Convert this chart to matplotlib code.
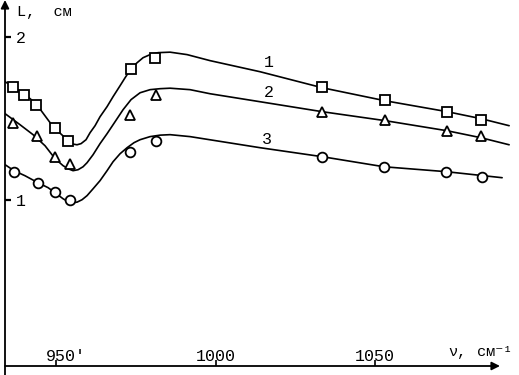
import matplotlib
matplotlib.use("Agg")
import matplotlib.pyplot as plt
from matplotlib.transforms import ScaledTranslation

plt.rcParams['font.family'] = ['Liberation Mono', 'DejaVu Sans']

# ---- data ----
# measured points
sq_v = [936.5, 940.0, 943.7, 949.7, 953.8, 973.5, 981.0, 1033.4, 1053.1, 1072.6, 1083.2]
sq_L = [1.69, 1.64, 1.58, 1.44, 1.36, 1.80, 1.87, 1.69, 1.61, 1.54, 1.49]

tr_v = [936.5, 944.0, 949.7, 954.4, 973.2, 981.3, 1033.4, 1053.1, 1072.6, 1083.2]
tr_L = [1.47, 1.39, 1.26, 1.22, 1.52, 1.64, 1.54, 1.49, 1.42, 1.39]

ci_v = [936.8, 944.4, 949.7, 954.4, 973.2, 981.3, 1033.4, 1052.8, 1072.3, 1083.5]
ci_L = [1.17, 1.10, 1.05, 1.00, 1.29, 1.36, 1.26, 1.20, 1.17, 1.14]

# fitted curves
c1_v = [934.01, 936.52, 939.66, 943.73, 949.06, 952.82, 954.39, 955.64, 956.58, 957.84,
        959.40, 960.66, 962.23, 963.79, 965.99, 967.87, 970.06, 971.63, 973.51, 975.39,
        977.27, 979.47, 981.97, 985.74, 991.07, 998.28, 1013.95, 1033.39, 1053.13,
        1072.57, 1083.23, 1092.01]
c1_L = [1.724, 1.693, 1.656, 1.589, 1.448, 1.380, 1.353, 1.340, 1.337, 1.344,
        1.368, 1.411, 1.454, 1.509, 1.571, 1.632, 1.699, 1.748, 1.804, 1.840,
        1.871, 1.890, 1.902, 1.905, 1.890, 1.853, 1.785, 1.687, 1.607,
        1.540, 1.497, 1.454]

c2_v = [934.01, 938.71, 942.79, 946.55, 949.69, 952.19, 953.76, 955.33, 956.90, 958.46,
        959.72, 961.60, 963.79, 965.99, 967.87, 971.00, 973.51, 976.33, 979.47, 982.60,
        985.74, 992.01, 998.28, 1013.95, 1033.39, 1053.13, 1072.57, 1083.23, 1092.01]
c2_L = [1.528, 1.460, 1.399, 1.331, 1.252, 1.209, 1.190, 1.178, 1.184, 1.202,
        1.227, 1.276, 1.344, 1.405, 1.460, 1.552, 1.614, 1.656, 1.675, 1.681,
        1.684, 1.675, 1.650, 1.601, 1.540, 1.485, 1.423, 1.380, 1.337]

c3_v = [934.01, 936.83, 940.28, 944.36, 947.49, 949.69, 952.19, 953.76, 955.02, 956.58,
        958.15, 959.72, 961.60, 963.79, 965.99, 967.87, 970.06, 972.26, 974.45, 976.33,
        979.47, 982.60, 985.74, 992.01, 1013.95, 1033.39, 1052.82, 1072.26, 1089.81]
c3_L = [1.215, 1.178, 1.147, 1.104, 1.074, 1.043, 1.006, 0.988, 0.982, 0.985,
        1.000, 1.025, 1.067, 1.117, 1.178, 1.233, 1.282, 1.319, 1.350, 1.368,
        1.387, 1.396, 1.399, 1.387, 1.319, 1.264, 1.202, 1.172, 1.135]

curve_labels = ['1', '2', '3']
curve_label_pos_v = [1016.8, 1016.8, 1016.2]
curve_label_pos_L = [1.84, 1.66, 1.37]

x_ticks = [950, 1000, 1050]
x_tick_labels = ["950'", "1000", "1050"]
y_ticks = [1, 2]
y_tick_labels = ["1", "2"]

# ---- figure ----
fig = plt.figure(figsize=(5.19, 3.75), dpi=100)
ax = fig.add_axes([5 / 519, 9 / 375, 514 / 519, 366 / 375])
ax.set_xlim(934.0, 1095.1)
ax.set_ylim(-0.02, 2.225)

lw = 1.2
for v, L in [(c1_v, c1_L), (c2_v, c2_L), (c3_v, c3_L)]:
    ax.plot(v, L, color='black', lw=lw, solid_joinstyle='round',
            solid_capstyle='round', zorder=2)

mk = dict(color='black', linestyle='none', mfc='white', mew=1.3, zorder=3)
ax.plot(sq_v, sq_L, marker='s', ms=6.5, **mk)
ax.plot(tr_v, tr_L, marker='^', ms=7, **mk)
ax.plot(ci_v, ci_L, marker='o', ms=7, **mk)

for t, v, L in zip(curve_labels, curve_label_pos_v, curve_label_pos_L):
    ax.text(v, L, t, fontsize=12, ha='center', va='center')

for s in ax.spines.values():
    s.set_visible(False)

ax.set_xticks(x_ticks)
ax.set_xticklabels(x_tick_labels)
ax.set_yticks(y_ticks)
ax.set_yticklabels(y_tick_labels)
ax.tick_params(axis='x', direction='in', length=4, width=1.2, pad=-12, labelsize=12)
ax.tick_params(axis='y', direction='in', length=4, width=1.6, pad=-15, labelsize=12)

# the "950'" label sits a little to the right of its tick in the original
lab0 = ax.get_xticklabels()[0]
lab0.set_transform(lab0.get_transform() + ScaledTranslation(0.10, 0, fig.dpi_scale_trans))

# axis arrows
ax.annotate('', xy=(0, 1.0), xytext=(0, -0.03), xycoords='axes fraction',
            arrowprops=dict(arrowstyle='-|>', lw=1.3, color='black', mutation_scale=12,
                            shrinkA=0, shrinkB=0), annotation_clip=False)
ax.annotate('', xy=(0.963, 0), xytext=(0, 0), xycoords='axes fraction',
            arrowprops=dict(arrowstyle='-|>', lw=1.3, color='black', mutation_scale=12,
                            shrinkA=0, shrinkB=0), annotation_clip=False)

fig.text(17 / 519, 1 - 12 / 375, "L,  см", fontsize=11, ha='left', va='center')
fig.text(448 / 519, 1 - 352 / 375, "ν,", fontsize=11, ha='left', va='center')
fig.text(477 / 519, 1 - 352 / 375, "см⁻¹", fontsize=11, ha='left', va='center')

fig.savefig("out.png", dpi=100)
